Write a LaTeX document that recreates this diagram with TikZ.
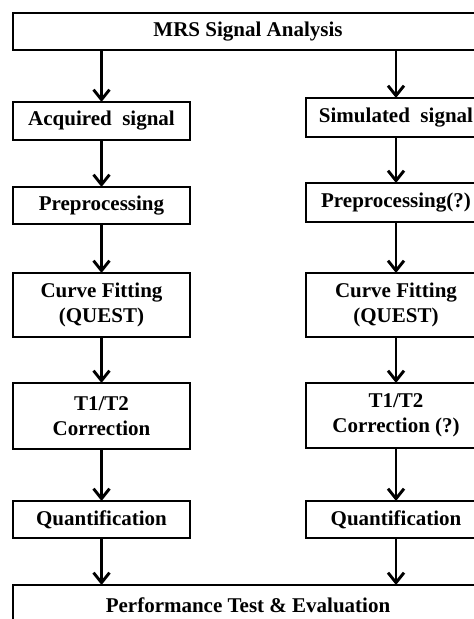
\documentclass[tikz,border=0pt]{standalone}
\usepackage{fontspec}
\setmainfont{Liberation Serif}
\usetikzlibrary{arrows.meta}
\begin{document}
\begin{tikzpicture}[x=1pt,y=1pt,
  box/.style={draw=black, fill=white, line width=2.9pt, inner sep=0pt, outer sep=0pt,
    align=center, font=\fontsize{21}{25}\selectfont\bfseries},
  lbox/.style={box, minimum width=177pt},
  rbox/.style={box, minimum width=180pt},
  wide/.style={box, minimum width=470pt},
  flow/.style={line width=2.9pt, -{Straight Barb[length=10pt,width=16pt,line width=2.9pt]}}
]
\useasboundingbox (0,0) rectangle (474,619);
\clip (0,0) rectangle (474,619);
\fill[white] (0,0) rectangle (474,619);

% header and footer
\node[wide, minimum height=37pt] (top) at (248,587.5) {MRS Signal Analysis};
\node[wide, minimum height=40pt] (bot) at (248,14) {Performance Test \& Evaluation};

% left column: acquired data
\node[lbox, minimum height=38pt] (acq) at (101.5,498) {Acquired\ \ signal};
\node[lbox, minimum height=37pt] (preL) at (101.5,413.5) {Preprocessing};
\node[lbox, minimum height=64pt] (cfL) at (101.5,314) {Curve Fitting\\(QUEST)};
\node[lbox, minimum height=66pt] (tL) at (101.5,203) {T1/T2\\Correction};
\node[lbox, minimum height=37pt] (qL) at (101.5,99.5) {Quantification};

% right column: simulated data
\node[rbox, minimum height=39pt] (sim) at (396,501.5) {Simulated\ \ signal};
\node[rbox, minimum height=39pt] (preR) at (396,416.5) {Preprocessing(?)};
\node[rbox, minimum height=64pt] (cfR) at (396,314) {Curve Fitting\\(QUEST)};
\node[rbox, minimum height=65pt] (tR) at (396,203.5) {T1/T2\\Correction (?)};
\node[rbox, minimum height=37pt] (qR) at (396,99.5) {Quantification};

% connectors
\draw[flow] (top.south -| acq.north) -- (acq.north);
\draw[flow] (acq) -- (preL);
\draw[flow] (preL) -- (cfL);
\draw[flow] (cfL) -- (tL);
\draw[flow] (tL) -- (qL);
\draw[flow] (qL.south) -- (qL.south |- bot.north);

\draw[flow] (top.south -| sim.north) -- (sim.north);
\draw[flow] (sim) -- (preR);
\draw[flow] (preR) -- (cfR);
\draw[flow] (cfR) -- (tR);
\draw[flow] (tR) -- (qR);
\draw[flow] (qR.south) -- (qR.south |- bot.north);
\end{tikzpicture}
\end{document}
